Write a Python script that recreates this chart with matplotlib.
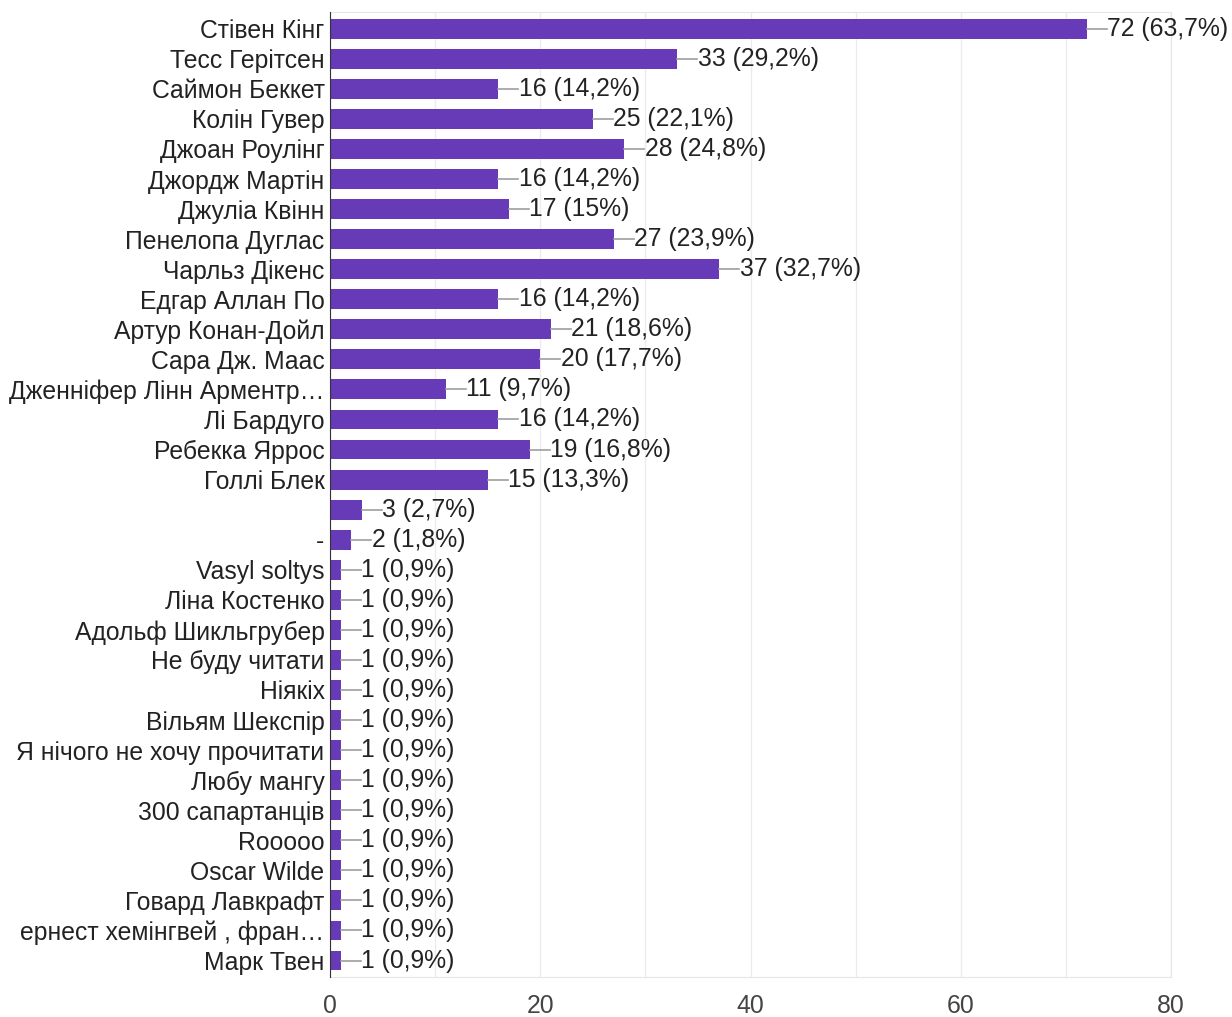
import matplotlib.pyplot as plt
from matplotlib.ticker import MultipleLocator

plt.rcParams['font.family'] = ['Liberation Sans', 'DejaVu Sans']

names = ['Стівен Кінг', 'Тесс Герітсен', 'Саймон Беккет', 'Колін Гувер',
         'Джоан Роулінг', 'Джордж Мартін', 'Джуліа Квінн', 'Пенелопа Дуглас',
         'Чарльз Дікенс', 'Едгар Аллан По', 'Артур Конан-Дойл', 'Сара Дж. Маас',
         'Дженніфер Лінн Арментр…', 'Лі Бардуго', 'Ребекка Яррос', 'Голлі Блек',
         '', '-', 'Vasyl soltys', 'Ліна Костенко', 'Адольф Шикльгрубер',
         'Не буду читати', 'Ніякіх', 'Вільям Шекспір', 'Я нічого не хочу прочитати',
         'Любу мангу', '300 сапартанців', 'Rooooo', 'Oscar Wilde',
         'Говард Лавкрафт', 'ернест хемінгвей , фран…', 'Марк Твен']
counts = [72, 33, 16, 25, 28, 16, 17, 27, 37, 16, 21, 20, 11, 16, 19, 15,
          3, 2, 1, 1, 1, 1, 1, 1, 1, 1, 1, 1, 1, 1, 1, 1]
shares = ['63,7', '29,2', '14,2', '22,1', '24,8', '14,2', '15', '23,9', '32,7',
          '14,2', '18,6', '17,7', '9,7', '14,2', '16,8', '13,3', '2,7', '1,8',
          '0,9', '0,9', '0,9', '0,9', '0,9', '0,9', '0,9', '0,9', '0,9', '0,9',
          '0,9', '0,9', '0,9', '0,9']

fig = plt.figure(figsize=(12.32, 10.17), dpi=100)
ax = fig.add_axes([0.268, 0.0393, 0.9505 - 0.268, 0.988 - 0.0393])

pos = list(range(len(names)))
ax.barh(pos, counts, height=0.66, color='#673ab7', zorder=3)

# leader line from bar end to its count label
for y, c, s in zip(pos, counts, shares):
    ax.plot([c, c + 1.9], [y, y], color='#9e9e9e', lw=1.2, zorder=3)
    ax.text(c + 1.95, y, f'{c} ({s}%)', va='center', ha='left',
            fontsize=17.8, color='#222222', zorder=4)

ax.set_yticks(pos)
ax.set_yticklabels(names, fontsize=17.8, color='#222222')
ax.set_ylim(len(names) - 0.45, -0.55)
ax.set_xlim(0, 80)
ax.xaxis.set_major_locator(MultipleLocator(20))
ax.xaxis.set_minor_locator(MultipleLocator(10))
ax.tick_params(axis='x', which='both', length=0, labelsize=17.8,
               labelcolor='#444444', pad=12)
ax.tick_params(axis='y', length=0, pad=4)
ax.grid(axis='x', which='both', color='#ececec', lw=1, zorder=0)

for side in ['top', 'right', 'bottom']:
    ax.spines[side].set_color('#e6e6e6')
ax.spines['left'].set_color('#333333')
ax.spines['left'].set_zorder(5)

fig.savefig('out.png', dpi=100)
